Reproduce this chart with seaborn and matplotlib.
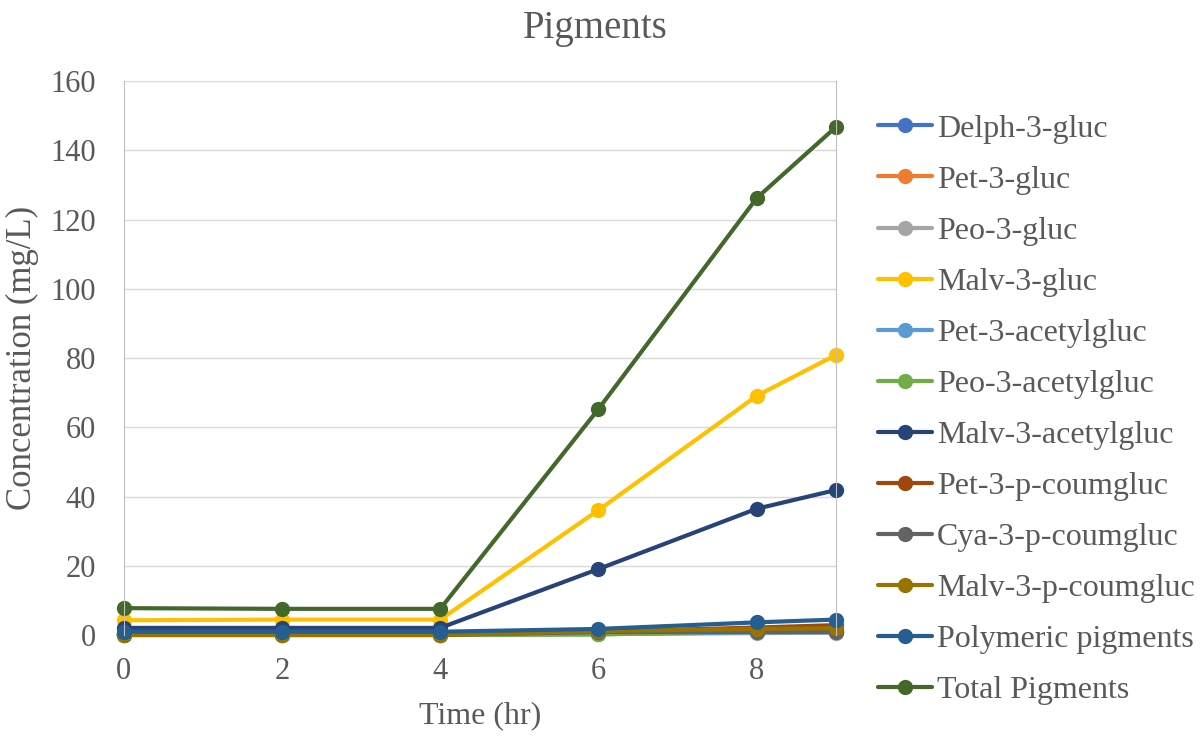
import numpy as np
import pandas as pd
import matplotlib
matplotlib.use("Agg")
import matplotlib.pyplot as plt
import seaborn as sns

# Data
time_hr = [0, 2, 4, 6, 8, 9]
delph_3_gluc = [0.3, 0.3, 0.3, 0.5, 0.9, 1.0]
pet_3_gluc = [0.3, 0.3, 0.3, 0.6, 1.2, 1.4]
peo_3_gluc = [0.1, 0.1, 0.1, 0.3, 0.6, 0.7]
malv_3_gluc = [4.3, 4.5, 4.5, 36.1, 69.1, 80.9]
pet_3_acetylgluc = [0.1, 0.1, 0.1, 0.3, 0.8, 0.9]
peo_3_acetylgluc = [0.1, 0.1, 0.1, 0.2, 1.2, 1.4]
malv_3_acetylgluc = [2.1, 2.1, 2.1, 19.1, 36.5, 41.9]
pet_3_p_coumgluc = [0.2, 0.2, 0.2, 1.0, 2.2, 2.9]
cya_3_p_coumgluc = [0.1, 0.1, 0.1, 0.9, 0.9, 0.9]
malv_3_p_coumgluc = [0.0, 0.0, 0.0, 1.2, 1.8, 2.0]
polymeric_pigments = [1.0, 1.0, 1.0, 1.8, 3.7, 4.5]
total_pigments = [7.8, 7.6, 7.6, 65.3, 126.2, 146.7]

series = {
    "Delph-3-gluc": (delph_3_gluc, "#4472C4"),
    "Pet-3-gluc": (pet_3_gluc, "#ED7D31"),
    "Peo-3-gluc": (peo_3_gluc, "#A5A5A5"),
    "Malv-3-gluc": (malv_3_gluc, "#FFC000"),
    "Pet-3-acetylgluc": (pet_3_acetylgluc, "#5B9BD5"),
    "Peo-3-acetylgluc": (peo_3_acetylgluc, "#70AD47"),
    "Malv-3-acetylgluc": (malv_3_acetylgluc, "#264478"),
    "Pet-3-p-coumgluc": (pet_3_p_coumgluc, "#9E480E"),
    "Cya-3-p-coumgluc": (cya_3_p_coumgluc, "#636363"),
    "Malv-3-p-coumgluc": (malv_3_p_coumgluc, "#997300"),
    "Polymeric pigments": (polymeric_pigments, "#255E91"),
    "Total Pigments": (total_pigments, "#43682B"),
}

rows = []
for name, (vals, _) in series.items():
    for t, v in zip(time_hr, vals):
        rows.append({"Time": t, "Value": v, "Pigment": name})
df = pd.DataFrame(rows)
palette = {k: c for k, (_, c) in series.items()}

sns.set_style("white")
plt.rcParams["font.family"] = ["Liberation Serif", "DejaVu Serif"]

fig, ax = plt.subplots(figsize=(12.01, 7.36), dpi=100)
fig.subplots_adjust(left=0.103, right=0.696, top=0.89, bottom=0.137)

sns.lineplot(data=df, x="Time", y="Value", hue="Pigment", palette=palette,
             marker="o", markersize=11, markeredgewidth=0, linewidth=3.0,
             ax=ax)

ax.set_xlim(0, 9)
ax.set_ylim(0, 160)
ax.set_xticks([0, 2, 4, 6, 8])
ax.set_yticks(range(0, 161, 20))
ax.yaxis.grid(True, color="#D9D9D9", linewidth=1)
ax.set_axisbelow(True)
for s in ["top", "bottom"]:
    ax.spines[s].set_visible(False)
for s in ["left", "right"]:
    ax.spines[s].set_color("#BFBFBF")
ax.tick_params(axis="both", labelsize=22, colors="#595959", length=0)
ax.tick_params(axis="x", pad=16)
ax.tick_params(axis="y", pad=20)
ax.set_xlabel("Time (hr)", fontsize=23, color="#595959", labelpad=11)
ax.set_ylabel("Concentration (mg/L)", fontsize=25, color="#595959", labelpad=8)
fig.suptitle("Pigments", fontsize=28, color="#595959", x=0.496, y=0.987)
for c in ax.collections + ax.lines:
    c.set_clip_on(False)

leg = ax.legend(loc="upper left", bbox_to_anchor=(1.059, 0.94), frameon=False,
                fontsize=23, labelspacing=0.68, handlelength=1.7,
                handletextpad=0.15, borderaxespad=0.0, borderpad=0.0)
for t in leg.get_texts():
    t.set_color("#595959")

fig.savefig("out.png", dpi=100)
